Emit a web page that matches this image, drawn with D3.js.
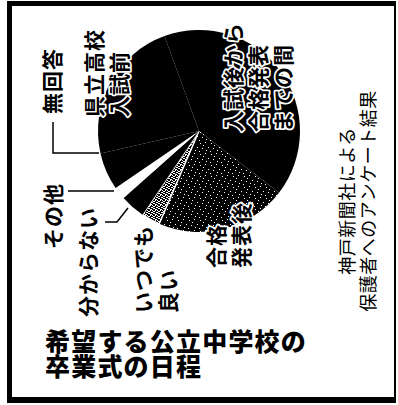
<!DOCTYPE html>
<html>
<head>
<meta charset="utf-8">
<script src="https://cdn.jsdelivr.net/npm/d3@7"></script>
<style>
  html, body { margin: 0; padding: 0; background: #fff; }
  svg { display: block; }
  text { font-family: "Noto Sans CJK JP", "Noto Sans", sans-serif; }
</style>
</head>
<body>
<div id="chart-container"></div>
<script>
// survey answers, clockwise from the top
const answers = ['入試後から合格発表までの間', '合格発表後', 'いつでも良い', '分からない', 'その他', '無回答', '県立高校入試前'];
const shares = [41, 21, 3, 4, 2, 6, 23];
const titleLines = ['希望する公立中学校の', '卒業式の日程'];
const sourceLines = ['神戸新聞社による', '保護者へのアンケート結果'];

const W = 398, H = 405;
const cx = 199, cy = 131, radius = 101;

const fills = {
    '入試後から合格発表までの間': '#000',
    '合格発表後': 'url(#stippleDark)',
    'いつでも良い': 'url(#stippleLight)',
    '分からない': '#000',
    'その他': '#fff',
    '無回答': '#000',
    '県立高校入試前': '#000'
};

// label placement (rotated text, x = line centre, y = where text starts)
const labelLayout = {
    '入試後から合格発表までの間': { lines: ['入試後から', '合格発表', 'までの間'], x: 232, y: 132, halo: true },
    '合格発表後': { lines: ['合格', '発表後'], x: 215, y: 268, halo: true },
    'いつでも良い': { lines: ['いつでも', '良い'], x: 142, y: 313 },
    '分からない': { lines: ['分からない'], x: 87, y: 317 },
    'その他': { lines: ['その他'], x: 52, y: 249 },
    '無回答': { lines: ['無回答'], x: 51, y: 114 },
    '県立高校入試前': { lines: ['県立高校', '入試前'], x: 93, y: 117, halo: true }
};
const leaders = [
    [[53, 122], [53, 153], [99, 153]],
    [[68, 191], [114, 191]],
    [[105, 222], [117, 222], [128, 208]]
];

const data = answers.map((a, i) => ({ name: a, value: shares[i] }));

const svg = d3.select('#chart-container')
    .append('svg')
    .attr('width', W)
    .attr('height', H);

// stipple textures like the newsprint screen
const defs = svg.append('defs');
const dark = defs.append('pattern').attr('id', 'stippleDark')
    .attr('patternUnits', 'userSpaceOnUse').attr('width', 11).attr('height', 11);
dark.append('rect').attr('width', 11).attr('height', 11).attr('fill', '#000');
[[1, 1], [6, 0], [9, 5], [3, 6], [0, 9], [7, 8], [4, 3]].forEach(p => {
    dark.append('rect').attr('x', p[0]).attr('y', p[1]).attr('width', 1).attr('height', 1).attr('fill', '#fff');
});
const light = defs.append('pattern').attr('id', 'stippleLight')
    .attr('patternUnits', 'userSpaceOnUse').attr('width', 5).attr('height', 5);
light.append('rect').attr('width', 5).attr('height', 5).attr('fill', '#000');
[[0, 0], [2, 1], [4, 2], [1, 3], [3, 4], [2, 3], [4, 0], [0, 2], [1, 4], [3, 1]].forEach(p => {
    light.append('rect').attr('x', p[0]).attr('y', p[1]).attr('width', 1).attr('height', 1).attr('fill', '#fff');
});

svg.append('rect').attr('width', W).attr('height', H).attr('fill', '#fff');

// frame
svg.append('rect')
    .attr('x', 9.5).attr('y', 4.5)
    .attr('width', 385.5).attr('height', 395)
    .attr('fill', 'none').attr('stroke', '#000').attr('stroke-width', 2);
svg.append('rect').attr('x', 7).attr('y', 1).attr('width', 5).attr('height', 402).attr('fill', '#000');
svg.append('rect').attr('x', 7).attr('y', 1).attr('width', 389).attr('height', 5).attr('fill', '#000');
svg.append('rect').attr('x', 7).attr('y', 397).attr('width', 389).attr('height', 6).attr('fill', '#000');

// pie
const pie = d3.pie()
    .sort(null)
    .value(d => d.value)
    .startAngle(-20 * Math.PI / 180)
    .endAngle(340 * Math.PI / 180);
const arc = d3.arc().innerRadius(0).outerRadius(radius);

const g = svg.append('g').attr('transform', `translate(${cx},${cy})`);
g.selectAll('.slice')
    .data(pie(data))
    .enter()
    .append('path')
    .attr('class', 'slice')
    .attr('d', arc)
    .attr('fill', d => fills[d.data.name])
    .attr('stroke', d => d.data.name === 'いつでも良い' ? '#fff' : 'none')
    .attr('stroke-width', 1.5);

// leader lines
svg.selectAll('.leader')
    .data(leaders)
    .enter()
    .append('path')
    .attr('class', 'leader')
    .attr('d', d3.line())
    .attr('fill', 'none')
    .attr('stroke', '#000')
    .attr('stroke-width', 1.5);

// rotated slice labels
answers.forEach(name => {
    const lay = labelLayout[name];
    lay.lines.forEach((line, i) => {
        const t = svg.append('text')
            .attr('transform', `translate(${lay.x + i * 25},${lay.y}) rotate(-90)`)
            .attr('text-anchor', 'start')
            .attr('dominant-baseline', 'central')
            .attr('font-size', 21)
            .attr('font-weight', 700)
            .attr('letter-spacing', 1)
            .attr('fill', '#000')
            .text(line);
        if (lay.halo) {
            t.attr('stroke', '#fff')
                .attr('stroke-width', 3.5)
                .attr('stroke-linejoin', 'round')
                .attr('paint-order', 'stroke');
        }
    });
});

// source note
sourceLines.forEach((line, i) => {
    svg.append('text')
        .attr('transform', `translate(${346 + i * 21},201) rotate(-90)`)
        .attr('text-anchor', 'middle')
        .attr('dominant-baseline', 'central')
        .attr('font-size', 18)
        .attr('letter-spacing', 0.5)
        .attr('fill', '#000')
        .text(line);
});

// title, two lines set tight as in the print
const title = svg.append('text')
    .attr('x', 45)
    .attr('y', 351)
    .attr('font-size', 25)
    .attr('font-weight', 900)
    .attr('letter-spacing', 1.2)
    .attr('fill', '#000');
titleLines.forEach((line, i) => {
    title.append('tspan')
        .attr('x', 45)
        .attr('dy', i === 0 ? 0 : 24.5)
        .text(line);
});
</script>
</body>
</html>
